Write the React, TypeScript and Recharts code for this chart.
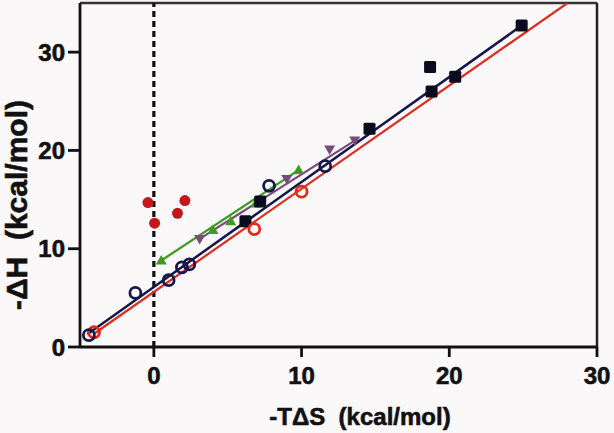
import { ScatterChart, Scatter, XAxis, YAxis, ReferenceLine, Label } from "recharts"

// -TΔS vs -ΔH (kcal/mol)
const X_TICKS = [0, 10, 20, 30]
const Y_TICKS = [0, 10, 20, 30]

const blackSquares = [
  { x: 6.2, y: 12.8 },
  { x: 7.2, y: 14.8 },
  { x: 14.6, y: 22.2 },
  { x: 18.7, y: 28.5 },
  { x: 18.8, y: 26.0 },
  { x: 20.4, y: 27.5 },
  { x: 24.9, y: 32.7 },
]
const navyCircles = [
  { x: -4.4, y: 1.2 },
  { x: -1.25, y: 5.5 },
  { x: 1.0, y: 6.8 },
  { x: 1.9, y: 8.1 },
  { x: 2.4, y: 8.4 },
  { x: 7.8, y: 16.4 },
  { x: 11.6, y: 18.4 },
]
const redCircles = [
  { x: -4.05, y: 1.5 },
  { x: 6.8, y: 12.0 },
  { x: 10.0, y: 15.8 },
]
const redDots = [
  { x: -0.4, y: 14.7 },
  { x: 0.05, y: 12.6 },
  { x: 1.6, y: 13.6 },
  { x: 2.1, y: 14.9 },
]
const greenTriangles = [
  { x: 0.5, y: 8.8 },
  { x: 4.0, y: 11.9 },
  { x: 5.2, y: 12.8 },
  { x: 6.9, y: 14.6 },
  { x: 9.8, y: 18.0 },
]
const purpleTriangles = [
  { x: 3.1, y: 11.0 },
  { x: 9.0, y: 17.1 },
  { x: 11.9, y: 20.1 },
  { x: 13.6, y: 21.0 },
]

// fitted lines (end points)
const navyFit = [
  { x: -4.5, y: 1.3 },
  { x: 24.9, y: 32.7 },
]
const redFit = [
  { x: -4.05, y: 1.35 },
  { x: 28.0, y: 35.0 },
]
const greenFit = [
  { x: 0.5, y: 8.8 },
  { x: 9.8, y: 18.0 },
]
const purpleFit = [
  { x: 3.1, y: 11.0 },
  { x: 13.6, y: 21.0 },
]

const NAVY = "#15174a"
const RED = "#e02a1e"
const DARKRED = "#c3171b"
const GREEN = "#3c9a25"
const PURPLE = "#7a4a7c"
const FONT = "'Liberation Sans', Arial, sans-serif"

const noShape = () => <g />

const square = (p: any) => (
  <rect x={p.cx - 6} y={p.cy - 6} width={12} height={12} rx={1.5} fill="#0b0b1e" />
)
const ring = (color: string) => (p: any) => (
  <circle cx={p.cx} cy={p.cy} r={5.5} fill="none" stroke={color} strokeWidth={2.8} />
)
const dot = (p: any) => <circle cx={p.cx} cy={p.cy} r={5.5} fill={DARKRED} />
const upTri = (p: any) => (
  <path d={`M${p.cx},${p.cy - 5.5} L${p.cx + 5.5},${p.cy + 4} L${p.cx - 5.5},${p.cy + 4} Z`} fill={GREEN} />
)
const downTri = (p: any) => (
  <path d={`M${p.cx},${p.cy + 5.5} L${p.cx + 5.5},${p.cy - 4} L${p.cx - 5.5},${p.cy - 4} Z`} fill={PURPLE} />
)

const tickStyle = {
  fontSize: 24,
  fontWeight: 700,
  fill: "#111",
  stroke: "#111",
  strokeWidth: 0.6,
  fontFamily: FONT,
}

export default function App() {
  return (
    <div style={{ position: "absolute", left: 0, top: 0, width: 614, height: 433, background: "#fbf8f9" }}>
      <ScatterChart width={614} height={433} margin={{ top: 3, right: 17, bottom: 0, left: 0 }}>
        <XAxis
          type="number"
          dataKey="x"
          domain={[-5, 30]}
          ticks={X_TICKS}
          allowDataOverflow
          height={86}
          tickSize={10}
          tickMargin={10}
          tick={tickStyle}
          stroke="#111"
          strokeWidth={2.8}
        >
          <Label
            content={() => (
              <text
                x={360}
                y={425}
                textAnchor="middle"
                fontSize={24}
                fontWeight={700}
                fontFamily={FONT}
                fill="#111"
                stroke="#111"
                strokeWidth={0.6}
              >
                {"-TΔS\u00a0\u00a0(kcal/mol)"}
              </text>
            )}
          />
        </XAxis>
        <YAxis
          type="number"
          dataKey="y"
          domain={[0, 35]}
          ticks={Y_TICKS}
          allowDataOverflow
          width={80}
          tickSize={12}
          tickMargin={3}
          tick={tickStyle}
          stroke="#111"
          strokeWidth={2.8}
        >
          <Label
            content={() => (
              <text
                x={0}
                y={0}
                transform="translate(27,205) rotate(-90)"
                textAnchor="middle"
                fontSize={30}
                fontWeight={700}
                fontFamily={FONT}
                fill="#111"
                stroke="#111"
                strokeWidth={0.6}
              >
                {"-ΔH\u00a0\u00a0(kcal/mol)"}
              </text>
            )}
          />
        </YAxis>
        <ReferenceLine y={35} stroke="#333" strokeWidth={2.5} />
        <ReferenceLine x={30} stroke="#222" strokeWidth={2.5} />
        <ReferenceLine x={0} stroke="#111" strokeWidth={3.2} strokeDasharray="6 4" />

        <Scatter data={redFit} line={{ stroke: RED, strokeWidth: 2.2 }} shape={noShape} isAnimationActive={false} />
        <Scatter data={navyFit} line={{ stroke: NAVY, strokeWidth: 2.5 }} shape={noShape} isAnimationActive={false} />
        <Scatter data={greenFit} line={{ stroke: GREEN, strokeWidth: 2.2 }} shape={noShape} isAnimationActive={false} />
        <Scatter data={purpleFit} line={{ stroke: PURPLE, strokeWidth: 2.2 }} shape={noShape} isAnimationActive={false} />

        <Scatter data={redDots} shape={dot} isAnimationActive={false} />
        <Scatter data={greenTriangles} shape={upTri} isAnimationActive={false} />
        <Scatter data={purpleTriangles} shape={downTri} isAnimationActive={false} />
        <Scatter data={blackSquares} shape={square} isAnimationActive={false} />
        <Scatter data={redCircles} shape={ring(RED)} isAnimationActive={false} />
        <Scatter data={navyCircles} shape={ring(NAVY)} isAnimationActive={false} />
      </ScatterChart>
    </div>
  )
}
